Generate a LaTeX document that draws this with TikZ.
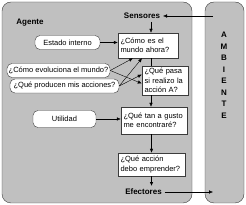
\documentclass[tikz,border=0pt]{standalone}
\usepackage{fontspec}
\setmainfont{Liberation Sans}
\usetikzlibrary{arrows.meta}
\definecolor{fondo}{HTML}{C0C0C0}
\definecolor{borde}{HTML}{3C3C3C}
\begin{document}
\begin{tikzpicture}[x=1pt, y=-1pt, >={Latex[length=4pt,width=3.5pt]},
    every node/.style={font=\fontsize{7.5}{9.5}\selectfont, inner sep=0pt},
    pill/.style={draw=borde, fill=white, rounded corners=5pt, minimum height=14pt},
    caja/.style={draw=borde, fill=white, align=left, inner xsep=2.5pt},
    tit/.style={font=\fontsize{8}{9}\selectfont\bfseries, outer sep=3pt}]
\useasboundingbox (0,0) rectangle (246,205);
% agente y ambiente
\draw[borde, fill=fondo, rounded corners=9pt] (2,2) rectangle (192,203);
\draw[borde, fill=fondo, rounded corners=9pt] (205,2) rectangle (244,203);
\node[tit] (agente) at (30,22.5) {Agente};
\node[tit, align=center, font=\fontsize{8}{11.5}\selectfont\bfseries] (ambiente) at (224,75) {A\\M\\B\\I\\E\\N\\T\\E};
\node[tit] (sensores) at (142,16) {Sensores};
\node[tit] (efectores) at (143.5,192) {Efectores};
\coordinate (amb1) at (213,16);
\coordinate (amb2) at (213,192);
% estados
\node[pill, minimum width=65pt] (estado) at (67.5,42.5) {Estado interno};
\node[pill, minimum width=103pt] (evoluciona) at (58.5,70.5) {¿Cómo evoluciona el mundo?};
\node[pill, minimum width=109pt] (producen) at (64.5,86) {¿Qué producen mis acciones?};
\node[pill, minimum width=63pt, minimum height=17pt] (utilidad) at (64.5,119) {Utilidad};
\node[caja, text width=55pt, minimum height=25pt] (mundo) at (148,45.5) {¿Cómo es el\\mundo ahora?};
\node[caja, text width=41pt, minimum height=29pt] (quepasa) at (165,80.5) {¿Qué pasa\\si realizo la\\acción A?};
\node[caja, text width=61pt, minimum height=27pt] (gusto) at (154,120.5) {¿Qué tan a gusto\\me encontraré?};
\node[caja, text width=62pt, minimum height=23pt] (accion) at (151.5,164.5) {¿Qué acción\\debo emprender?};
% conexiones
\draw[->] (amb1) -- (sensores);
\draw[->] ([xshift=9pt]sensores.south) -- ([xshift=3pt]mundo.north);
\draw[->] (estado) -- (mundo.west |- estado);
\draw[->] (evoluciona.east) -- ([xshift=-15pt]mundo.south);
\draw[->] (evoluciona.east) -- ([yshift=-3pt]quepasa.west);
\draw[->] (producen.east) -- ([xshift=-6pt]mundo.south);
\draw[->] (producen.east) -- ([yshift=6pt]quepasa.west);
\draw ([xshift=3pt]mundo.south) -- ([xshift=3pt]mundo.south |- quepasa.north);
\draw[->] ([xshift=-3pt]gusto.north |- quepasa.south) -- ([xshift=-3pt]gusto.north);
\draw[->] (utilidad) -- (gusto.west |- utilidad);
\draw[->] (gusto.south -| accion) -- (accion);
\draw[->, line width=1.5pt] (accion.south) -- (accion.south |- efectores.north);
\draw[->] (efectores) -- (amb2);
\end{tikzpicture}
\end{document}
